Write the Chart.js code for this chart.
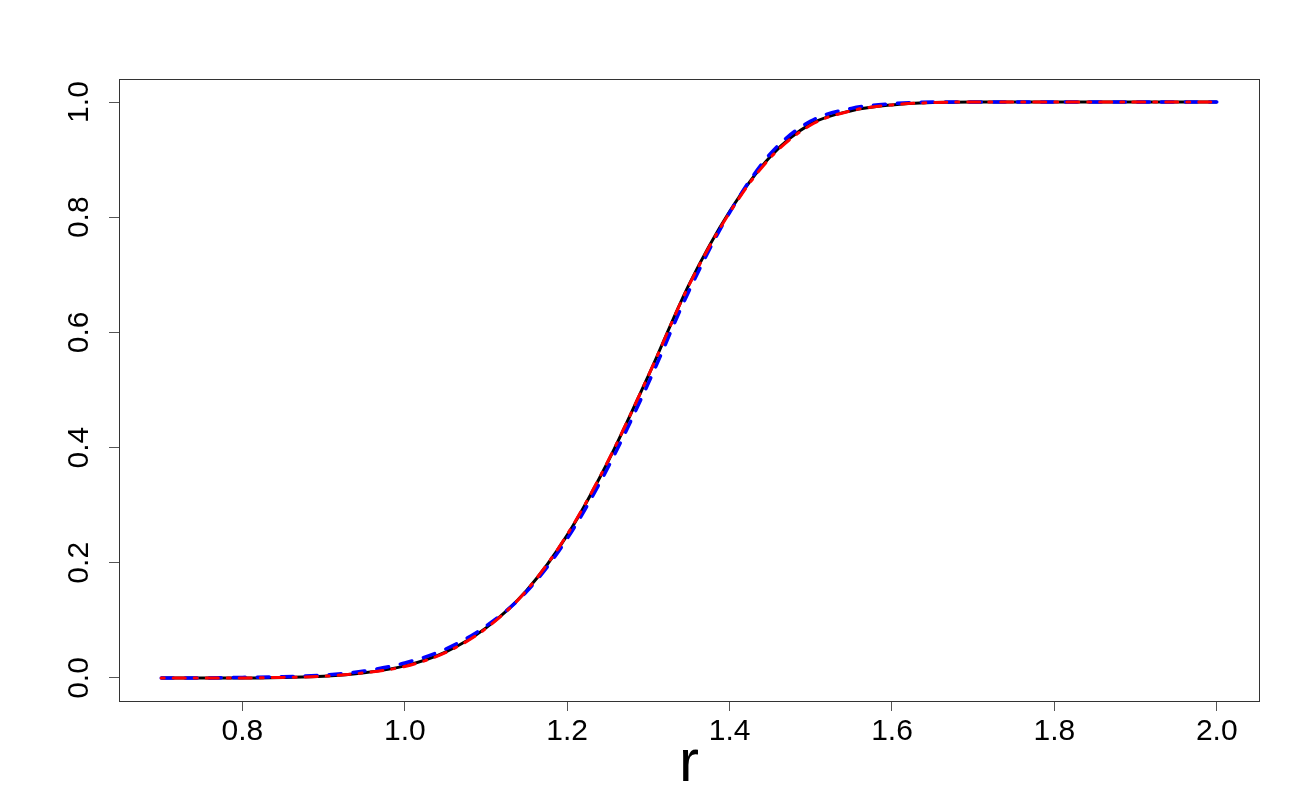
<!DOCTYPE html>
<html>
<head>
<meta charset="utf-8">
<script src="https://cdn.jsdelivr.net/npm/chart.js@4"></script>
<style>
  body { margin: 0; background: #fff; }
  canvas { display: block; }
</style>
</head>
<body>
<canvas id="myChart" width="1300" height="800"></canvas>
<script>
// valores de r (eixo x)
const rValues = [0.70, 0.75, 0.80, 0.85, 0.90, 0.95, 1.00, 1.05, 1.10, 1.15, 1.20, 1.25, 1.30,
  1.35, 1.40, 1.45, 1.50, 1.55, 1.60, 1.65, 1.70, 1.75, 1.80, 1.85, 1.90, 1.95, 2.00];

// curva preta (sólida)
const blackCurve = [0.000, 0.000, 0.000, 0.001, 0.003, 0.009, 0.021, 0.045, 0.087, 0.152, 0.248, 0.375, 0.525,
  0.683, 0.810, 0.905, 0.962, 0.985, 0.995, 0.999, 1.000, 1.000, 1.000, 1.000, 1.000, 1.000, 1.000];

// curva azul (tracejada)
const blueCurve = [0.000, 0.000, 0.001, 0.002, 0.005, 0.012, 0.026, 0.050, 0.090, 0.150, 0.242, 0.365, 0.512,
  0.672, 0.808, 0.910, 0.967, 0.989, 0.997, 1.000, 1.000, 1.000, 1.000, 1.000, 1.000, 1.000, 1.000];

// curva vermelha (traço-ponto)
const redCurve = [0.000, 0.000, 0.000, 0.001, 0.003, 0.009, 0.020, 0.044, 0.086, 0.152, 0.249, 0.376, 0.525,
  0.682, 0.808, 0.903, 0.960, 0.985, 0.995, 0.999, 1.000, 1.000, 1.000, 1.000, 1.000, 1.000, 1.000];

const xTicks = [0.8, 1.0, 1.2, 1.4, 1.6, 1.8, 2.0];
const yTicks = [0.0, 0.2, 0.4, 0.6, 0.8, 1.0];

function toPoints(ys) {
  return rValues.map((x, i) => ({ x: x, y: ys[i] }));
}

// moldura em volta da área do gráfico (estilo R)
const boxPlugin = {
  id: "box",
  afterDraw(chart) {
    const a = chart.chartArea;
    const ctx = chart.ctx;
    ctx.save();
    ctx.strokeStyle = "#333";
    ctx.lineWidth = 1;
    ctx.strokeRect(a.left + 0.5, a.top + 0.5, a.right - a.left, a.bottom - a.top);
    ctx.restore();
  },
};

const tickFont = { family: "'Liberation Sans', Arial, sans-serif", size: 30 };

const config = {
  type: "line",
  data: {
    datasets: [
      {
        label: "vermelha",
        data: toPoints(redCurve),
        borderColor: "#ff0000",
        borderWidth: 3,
        borderDash: [3, 9, 12, 9],
        borderCapStyle: "round",
        pointRadius: 0,
        cubicInterpolationMode: "monotone",
        fill: false,
      },
      {
        label: "azul",
        data: toPoints(blueCurve),
        borderColor: "#0000ff",
        borderWidth: 3.5,
        borderDash: [12, 12],
        borderCapStyle: "round",
        pointRadius: 0,
        cubicInterpolationMode: "monotone",
        fill: false,
      },
      {
        label: "preta",
        data: toPoints(blackCurve),
        borderColor: "#000000",
        borderWidth: 3,
        pointRadius: 0,
        cubicInterpolationMode: "monotone",
        fill: false,
      },
    ],
  },
  options: {
    responsive: false,
    animation: false,
    layout: { padding: { left: 0, top: 79, right: 41, bottom: 0 } },
    plugins: {
      legend: { display: false },
      tooltip: { enabled: false },
    },
    scales: {
      x: {
        type: "linear",
        min: 0.648,
        max: 2.052,
        afterFit: function (scale) { scale.height = 99; },
        afterBuildTicks: function (scale) { scale.ticks = xTicks.map((v) => ({ value: v })); },
        border: { display: false },
        grid: { drawOnChartArea: false, drawTicks: true, tickLength: 10, color: "#555" },
        ticks: {
          color: "#000",
          font: tickFont,
          padding: 3,
          maxRotation: 0,
          callback: (v) => v.toFixed(1),
        },
        title: {
          display: true,
          text: "r",
          color: "#000",
          font: { family: "'Liberation Sans', Arial, sans-serif", size: 60 },
          padding: { top: 0, bottom: 0 },
        },
      },
      y: {
        type: "linear",
        min: -0.04,
        max: 1.04,
        afterFit: function (scale) { scale.width = 119; },
        afterBuildTicks: function (scale) { scale.ticks = yTicks.map((v) => ({ value: v })); },
        border: { display: false },
        grid: { drawOnChartArea: false, drawTicks: true, tickLength: 10, color: "#555" },
        ticks: {
          color: "#000",
          font: tickFont,
          padding: 8,
          minRotation: 90,
          maxRotation: 90,
          crossAlign: "center",
          callback: (v) => v.toFixed(1),
        },
      },
    },
  },
  plugins: [boxPlugin],
};

window.onload = function () {
  const ctx = document.getElementById("myChart").getContext("2d");
  const myChart = new Chart(ctx, config);
};
</script>
</body>
</html>
